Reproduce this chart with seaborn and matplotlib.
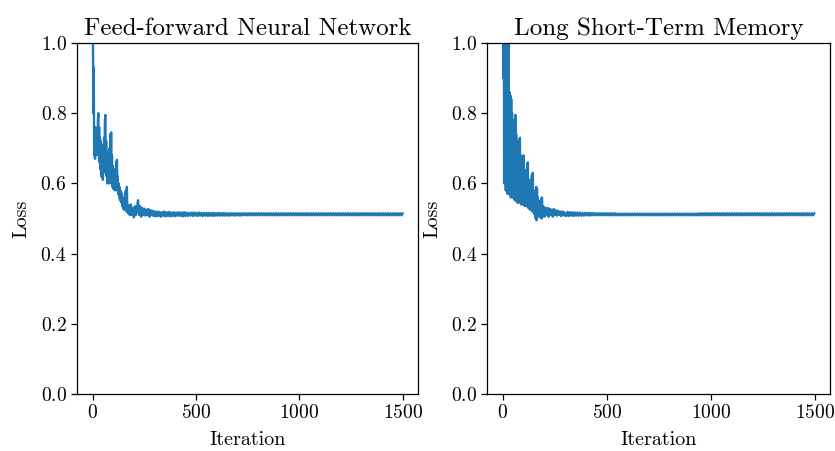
import numpy as np
import matplotlib
matplotlib.use("Agg")
import matplotlib.pyplot as plt
import seaborn as sns

# ---------------- data ----------------
titles = ["Feed-forward Neural Network", "Long Short-Term Memory"]
y_ticks = [0.0, 0.2, 0.4, 0.6, 0.8, 1.0]
x_ticks = [0, 500, 1000, 1500]

# Feed-forward network: iterations 0-178 (step 2)
ffnn_iter_a = list(range(0, 180, 2))
ffnn_loss_a = [
    1.40, 1.05, 0.80, 0.93, 0.68, 0.74, 0.67, 0.76, 0.70, 0.72,
    0.68, 0.75, 0.69, 0.78, 0.80, 0.70, 0.76, 0.66, 0.73, 0.64,
    0.72, 0.62, 0.70, 0.63, 0.71, 0.61, 0.68, 0.63, 0.73, 0.65,
    0.78, 0.795, 0.66, 0.72, 0.62, 0.69, 0.60, 0.67, 0.61, 0.66,
    0.60, 0.70, 0.62, 0.74, 0.64, 0.745, 0.60, 0.68, 0.59, 0.65,
    0.585, 0.64, 0.59, 0.62, 0.58, 0.64, 0.59, 0.66, 0.60, 0.667,
    0.58, 0.62, 0.57, 0.60, 0.565, 0.59, 0.555, 0.58, 0.55, 0.575,
    0.545, 0.57, 0.535, 0.56, 0.53, 0.555, 0.525, 0.55, 0.535, 0.575,
    0.53, 0.58, 0.52, 0.59, 0.525, 0.54, 0.515, 0.535, 0.52, 0.53,
]
# iterations 180-300 (step 5)
ffnn_iter_b = list(range(180, 305, 5))
ffnn_loss_b = [
    0.51, 0.54, 0.51, 0.53, 0.503, 0.535, 0.51, 0.53, 0.552, 0.51,
    0.535, 0.505, 0.53, 0.51, 0.528, 0.508, 0.525, 0.51, 0.527, 0.505,
    0.524, 0.51, 0.522, 0.507, 0.52,
]
# iterations 305-1499 (step 6)
ffnn_iter_c = list(range(305, 1500, 6))
ffnn_loss_c = [
    0.506, 0.520, 0.507, 0.519, 0.505, 0.518, 0.507, 0.520, 0.506, 0.518,
    0.507, 0.519, 0.506, 0.517, 0.507, 0.518, 0.506, 0.517, 0.508, 0.518,
    0.507, 0.517, 0.506, 0.518, 0.507, 0.517, 0.507, 0.516, 0.508, 0.517,
    0.507, 0.517, 0.508, 0.516, 0.507, 0.517, 0.508, 0.516, 0.507, 0.516,
    0.508, 0.516, 0.507, 0.516, 0.508, 0.516, 0.507, 0.516, 0.508, 0.515,
    0.508, 0.516, 0.508, 0.515, 0.508, 0.516, 0.508, 0.515, 0.508, 0.515,
    0.508, 0.515, 0.509, 0.515, 0.508, 0.515, 0.509, 0.515, 0.508, 0.515,
    0.509, 0.515, 0.509, 0.515, 0.509, 0.515, 0.509, 0.515, 0.509, 0.515,
    0.509, 0.515, 0.509, 0.515, 0.509, 0.515, 0.509, 0.515, 0.509, 0.515,
    0.509, 0.515, 0.509, 0.515, 0.509, 0.515, 0.509, 0.515, 0.509, 0.515,
    0.509, 0.515, 0.509, 0.515, 0.509, 0.515, 0.509, 0.515, 0.509, 0.515,
    0.509, 0.515, 0.509, 0.515, 0.509, 0.515, 0.509, 0.515, 0.509, 0.515,
    0.509, 0.515, 0.509, 0.515, 0.509, 0.515, 0.509, 0.515, 0.509, 0.515,
    0.509, 0.515, 0.509, 0.515, 0.509, 0.515, 0.509, 0.515, 0.509, 0.515,
    0.509, 0.515, 0.509, 0.515, 0.509, 0.515, 0.509, 0.515, 0.509, 0.515,
    0.509, 0.515, 0.509, 0.515, 0.509, 0.515, 0.509, 0.515, 0.509, 0.515,
    0.509, 0.515, 0.509, 0.515, 0.509, 0.515, 0.509, 0.515, 0.509, 0.515,
    0.509, 0.515, 0.509, 0.515, 0.509, 0.515, 0.509, 0.515, 0.509, 0.515,
    0.509, 0.515, 0.509, 0.515, 0.509, 0.515, 0.509, 0.515, 0.509, 0.515,
    0.509, 0.515, 0.509, 0.515, 0.509, 0.515, 0.509, 0.515, 0.509, 0.515,
]

# LSTM: iterations 0-188 (step 2)
lstm_iter_a = list(range(0, 190, 2))
lstm_loss_a = [
    1.30, 0.90, 1.25, 0.60, 1.20, 0.62, 1.15, 0.58, 1.10, 0.60,
    1.06, 0.57, 1.04, 0.60, 1.01, 0.57, 0.86, 0.58, 0.85, 0.56,
    0.84, 0.58, 0.80, 0.56, 0.78, 0.57, 0.77, 0.555, 0.78, 0.56,
    0.795, 0.55, 0.74, 0.56, 0.72, 0.545, 0.70, 0.55, 0.70, 0.545,
    0.725, 0.73, 0.55, 0.68, 0.54, 0.66, 0.545, 0.65, 0.54, 0.66,
    0.68, 0.54, 0.64, 0.535, 0.63, 0.54, 0.62, 0.535, 0.63, 0.655,
    0.66, 0.53, 0.61, 0.535, 0.60, 0.525, 0.59, 0.53, 0.60, 0.615,
    0.625, 0.52, 0.63, 0.525, 0.58, 0.515, 0.57, 0.51, 0.575, 0.50,
    0.59, 0.495, 0.585, 0.51, 0.56, 0.505, 0.55, 0.51, 0.545, 0.505,
    0.55, 0.51, 0.555, 0.50, 0.56,
]
# iterations 190-300 (step 5)
lstm_iter_b = list(range(190, 305, 5))
lstm_loss_b = [
    0.505, 0.535, 0.505, 0.53, 0.51, 0.53, 0.505, 0.528, 0.51, 0.525,
    0.505, 0.527, 0.51, 0.523, 0.508, 0.522, 0.51, 0.52, 0.507, 0.52,
    0.509, 0.518, 0.508,
]
# iterations 305-1499 (step 6)
lstm_iter_c = list(range(305, 1500, 6))
lstm_loss_c = [
    0.507, 0.519, 0.507, 0.518, 0.508, 0.518, 0.507, 0.517, 0.508, 0.517,
    0.508, 0.517, 0.508, 0.516, 0.508, 0.516, 0.509, 0.516, 0.508, 0.516,
    0.509, 0.516, 0.509, 0.515, 0.509, 0.515, 0.509, 0.515, 0.509, 0.515,
    0.509, 0.515, 0.509, 0.515, 0.509, 0.515, 0.509, 0.515, 0.509, 0.515,
    0.509, 0.514, 0.509, 0.514, 0.509, 0.514, 0.509, 0.514, 0.509, 0.514,
    0.509, 0.514, 0.509, 0.514, 0.509, 0.514, 0.509, 0.514, 0.509, 0.514,
    0.509, 0.514, 0.509, 0.514, 0.509, 0.514, 0.509, 0.514, 0.509, 0.514,
    0.509, 0.514, 0.509, 0.514, 0.509, 0.514, 0.509, 0.514, 0.509, 0.514,
    0.509, 0.514, 0.509, 0.514, 0.509, 0.514, 0.509, 0.514, 0.509, 0.514,
    0.509, 0.514, 0.509, 0.514, 0.509, 0.514, 0.509, 0.514, 0.509, 0.514,
    0.509, 0.514, 0.509, 0.514, 0.509, 0.514, 0.509, 0.515, 0.509, 0.515,
    0.509, 0.515, 0.509, 0.515, 0.509, 0.515, 0.509, 0.515, 0.509, 0.515,
    0.509, 0.515, 0.509, 0.515, 0.509, 0.515, 0.509, 0.515, 0.509, 0.515,
    0.509, 0.515, 0.509, 0.515, 0.509, 0.515, 0.509, 0.515, 0.509, 0.515,
    0.509, 0.515, 0.509, 0.515, 0.509, 0.515, 0.509, 0.515, 0.509, 0.515,
    0.509, 0.515, 0.509, 0.515, 0.509, 0.515, 0.509, 0.515, 0.509, 0.515,
    0.509, 0.515, 0.509, 0.515, 0.509, 0.515, 0.509, 0.515, 0.509, 0.515,
    0.509, 0.515, 0.509, 0.515, 0.509, 0.515, 0.509, 0.515, 0.509, 0.515,
    0.509, 0.515, 0.509, 0.515, 0.509, 0.515, 0.509, 0.515, 0.509, 0.515,
    0.509, 0.515, 0.509, 0.515, 0.509, 0.515, 0.509, 0.515, 0.509, 0.515,
]

ffnn_iter = ffnn_iter_a + ffnn_iter_b + ffnn_iter_c
ffnn_loss = ffnn_loss_a + ffnn_loss_b + ffnn_loss_c
lstm_iter = lstm_iter_a + lstm_iter_b + lstm_iter_c
lstm_loss = lstm_loss_a + lstm_loss_b + lstm_loss_c

# ---------------- style ----------------
sns.set_style("ticks", {"axes.edgecolor": "black", "xtick.color": "black",
                        "ytick.color": "black", "text.color": "black",
                        "axes.labelcolor": "black"})
plt.rcParams["font.family"] = ["cmr10", "DejaVu Serif"]
plt.rcParams["mathtext.fontset"] = "cm"
plt.rcParams["axes.unicode_minus"] = False
plt.rcParams["axes.formatter.use_mathtext"] = True
plt.rcParams["xtick.direction"] = "out"
plt.rcParams["ytick.direction"] = "out"

fig = plt.figure(figsize=(8.35, 4.51), dpi=100)
ax1 = fig.add_axes([0.0922, 0.1264, 0.4087, 0.7783])
ax2 = fig.add_axes([0.5836, 0.1264, 0.4104, 0.7783])

for ax, xs, ys, title in [(ax1, ffnn_iter, ffnn_loss, titles[0]),
                          (ax2, lstm_iter, lstm_loss, titles[1])]:
    sns.lineplot(x=xs, y=ys, ax=ax, color="#1f77b4", linewidth=1.7,
                 sort=False, estimator=None)
    ax.set_ylim(0, 1.0)
    ax.set_xlim(-75, 1574)
    ax.set_yticks(y_ticks)
    ax.set_xticks(x_ticks)
    ax.tick_params(labelsize=14, length=4, width=0.9, colors="black")
    ax.set_title(title, fontsize=18, pad=6)
    ax.set_xlabel("Iteration", fontsize=14.5, labelpad=6)
    ax.set_ylabel("Loss", fontsize=14.5, labelpad=7)
    for s in ax.spines.values():
        s.set_linewidth(0.9)
        s.set_color("black")

fig.savefig("out.png", dpi=100)
